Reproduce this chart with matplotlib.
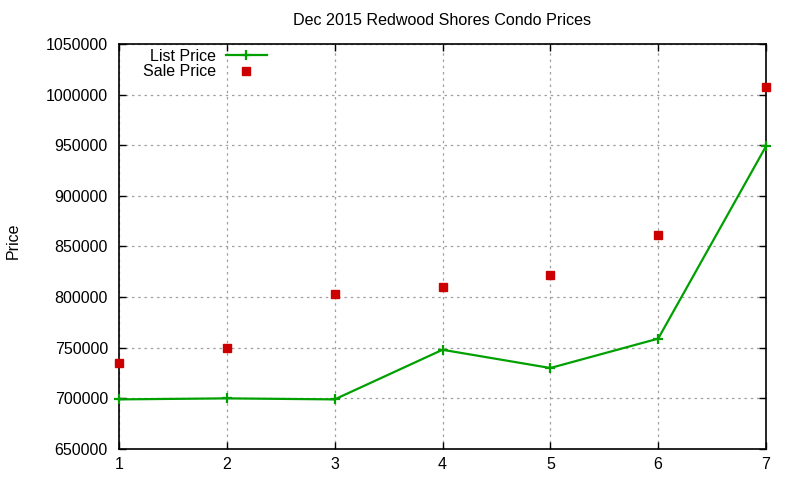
import matplotlib
matplotlib.use('Agg')

import matplotlib.pyplot as plt

# Data
weeks = [1, 2, 3, 4, 5, 6, 7]
list_price = [699000, 700000, 699000, 748000, 730000, 759000, 949000]
sale_price = [735000, 750000, 803000, 810000, 822000, 861000, 1007500]
yticks = [650000, 700000, 750000, 800000, 850000, 900000, 950000, 1000000, 1050000]

plt.rcParams['font.family'] = ['Liberation Sans', 'DejaVu Sans']

fig = plt.figure(figsize=(8, 4.8), dpi=100)
ax = fig.add_axes([119 / 800, 1 - 449 / 480, (766 - 119) / 800, (449 - 44) / 480])

ax.plot(weeks, list_price, color='#00a000', lw=1.6, marker='+',
        markersize=7, markeredgewidth=1.6, label='List Price', clip_on=False, zorder=3)
ax.plot(weeks, sale_price, color='#cc0000', lw=0, marker='s',
        markersize=6, label='Sale Price', clip_on=False, zorder=3)

ax.set_xlim(1, 7)
ax.set_ylim(650000, 1050000)
ax.set_xticks(weeks)
ax.set_yticks(yticks)
ax.set_yticklabels([str(v) for v in yticks])

ax.grid(True, color='#a0a0a0', linestyle=(0, (2, 3)), lw=0.9)
ax.tick_params(direction='in', length=5, width=1, top=True, right=True,
               labelsize=11.5, colors='black')
ax.tick_params(axis='y', pad=8)
ax.tick_params(axis='x', pad=6)
for s in ax.spines.values():
    s.set_linewidth(1.2)

ax.set_title('Dec 2015 Redwood Shores Condo Prices', fontsize=11.6, pad=14)
ax.set_ylabel('Price', fontsize=11.5)
ax.yaxis.set_label_coords(-0.152, 0.515)

ax.legend(loc='upper left', bbox_to_anchor=(0.022, 1.0125), frameon=False,
          markerfirst=False, fontsize=11.5, handlelength=2.6, handletextpad=0.6,
          labelspacing=0.05, borderaxespad=0.2)

plt.savefig('out.png', dpi=100)
plt.close()
